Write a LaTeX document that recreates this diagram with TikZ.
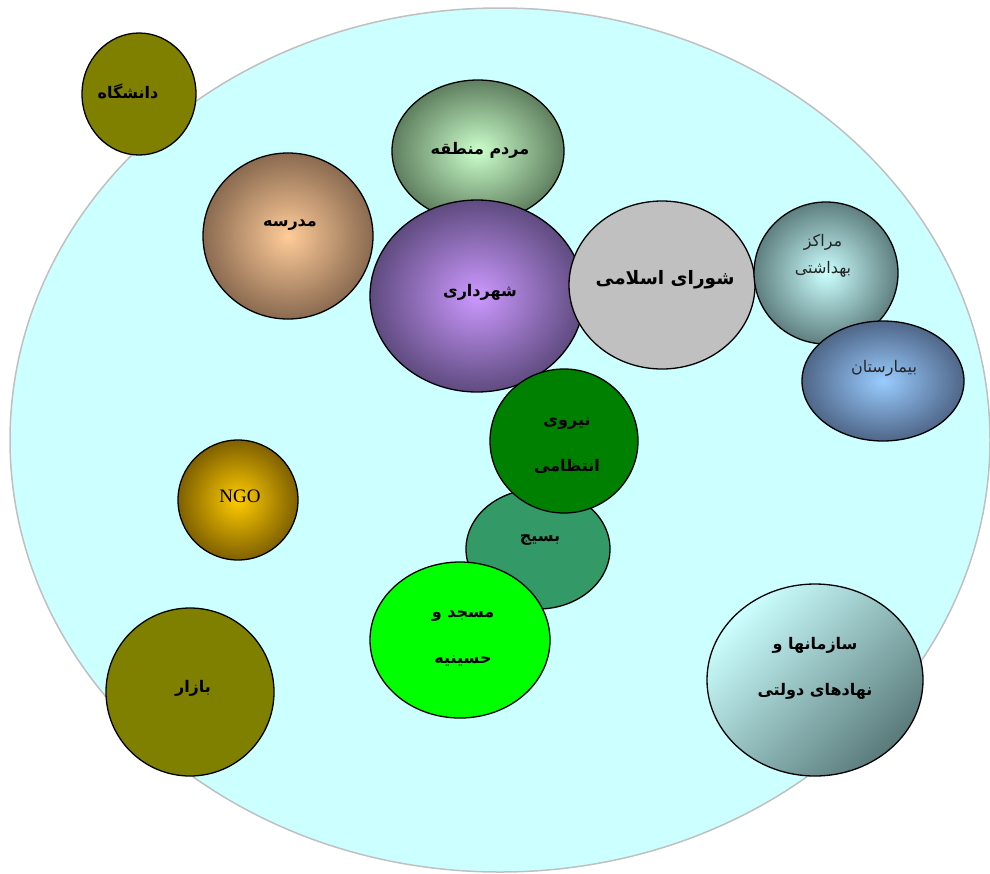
\documentclass[tikz,border=0pt]{standalone}
\usepackage{fontspec}
\setmainfont{Liberation Serif}
\newfontfamily\arabicfont[Script=Arabic]{DejaVu Sans}
\TeXXeTstate=1
\usetikzlibrary{shapes.geometric}
\definecolor{bgcyan}{HTML}{CCFFFF}
\definecolor{bgborder}{HTML}{C0C0C0}
\definecolor{olivec}{HTML}{808000}
\definecolor{mardomIn}{HTML}{CCFFCC}
\definecolor{mardomOut}{HTML}{5F7F5F}
\definecolor{madIn}{HTML}{FFCC99}
\definecolor{madOut}{HTML}{8A6A50}
\definecolor{shahIn}{HTML}{CC99FF}
\definecolor{shahOut}{HTML}{5F4B80}
\definecolor{shoraC}{HTML}{C0C0C0}
\definecolor{markazIn}{HTML}{CCFFFF}
\definecolor{markazOut}{HTML}{5F7F7F}
\definecolor{bimIn}{HTML}{99CCFF}
\definecolor{bimOut}{HTML}{4F6688}
\definecolor{niruC}{HTML}{008000}
\definecolor{basijC}{HTML}{339966}
\definecolor{masjedC}{HTML}{00FF00}
\definecolor{ngoIn}{HTML}{FFCC00}
\definecolor{ngoOut}{HTML}{7F6000}
\definecolor{sazIn}{HTML}{CCFFFF}
\definecolor{sazOut}{HTML}{5A7A7A}
\tikzset{
  blob/.style={ellipse, draw=black, line width=1.3pt, inner sep=0pt},
  fa/.style={font=\arabicfont\bfseries\fontsize{16}{18}\selectfont, text=black, align=center},
  fatwo/.style={font=\arabicfont\bfseries\fontsize{16}{46}\selectfont, text=black, align=center},
  faplain/.style={font=\arabicfont\fontsize{16}{27}\selectfont, text=black!85, align=center},
}
\begin{document}
\begin{tikzpicture}[x=1pt,y=-1pt]
\useasboundingbox (0,0) rectangle (990,873);
% background ellipse
\node[ellipse, draw=bgborder, fill=bgcyan, line width=1.5pt, minimum width=980pt, minimum height=864pt, inner sep=0pt] (bg) at (500,440) {};
% circles
\node[blob, fill=olivec, minimum width=114pt, minimum height=122pt] (daneshgah) at (139,94) {};
\node[blob, inner color=mardomIn, outer color=mardomOut, minimum width=172pt, minimum height=142pt] (mardom) at (478,151) {};
\node[blob, inner color=madIn, outer color=madOut, minimum width=170pt, minimum height=166pt] (madrese) at (288,236) {};
\node[blob, inner color=shahIn, outer color=shahOut, minimum width=214pt, minimum height=192pt] (shahrdari) at (477,296) {};
\node[blob, fill=shoraC, minimum width=186pt, minimum height=168pt] (shora) at (662,285) {};
\node[blob, inner color=markazIn, outer color=markazOut, minimum width=144pt, minimum height=142pt] (marakez) at (826,273) {};
\node[blob, inner color=bimIn, outer color=bimOut, minimum width=162pt, minimum height=120pt] (bimarestan) at (883,381) {};
\node[blob, fill=basijC, minimum width=144pt, minimum height=120pt] (basij) at (538,549) {};
\node[blob, fill=niruC, minimum width=148pt, minimum height=144pt] (niru) at (564,441) {};
\node[blob, fill=masjedC, minimum width=180pt, minimum height=156pt] (masjed) at (460,640) {};
\node[blob, inner color=ngoIn, outer color=ngoOut, minimum width=120pt, minimum height=120pt] (ngo) at (238,500) {};
\node[blob, fill=olivec, minimum width=168pt, minimum height=168pt] (bazar) at (190,692) {};
\node[blob, shading=axis, top color=sazIn, bottom color=sazOut, shading angle=45, minimum width=216pt, minimum height=192pt] (sazman) at (815,680) {};
% labels
\node[fa] (tdaneshgah) at (128,91) {\beginR دانشگاه\endR};
\node[fa] (tmardom) at (480,150) {\beginR مردم منطقه\endR};
\node[fa] (tmadrese) at (290,225) {\beginR مدرسه\endR};
\node[fa] (tshahrdari) at (480,292) {\beginR شهرداری\endR};
\node[fa, font=\arabicfont\bfseries\fontsize{18.5}{21}\selectfont] (tshora) at (665,280) {\beginR شورای اسلامی\endR};
\node[faplain] (tmarakez) at (823,256) {\beginR مراکز\endR\\\beginR بهداشتی\endR};
\node[faplain] (tbimarestan) at (884,368) {\beginR بیمارستان\endR};
\node[fatwo] (tniru) at (567,446) {\beginR نیروی\endR\\\beginR انتظامی\endR};
\node[fa] (tbasij) at (540,540) {\beginR بسیج\endR};
\node[fatwo] (tmasjed) at (463,638) {\beginR مسجد و\endR\\\beginR حسینیه\endR};
\node[font=\fontsize{19}{21}\selectfont] (tngo) at (240,496) {NGO};
\node[fa] (tbazar) at (193,688) {\beginR بازار\endR};
\node[fatwo] (tsazman) at (815,668) {\beginR سازمانها و\endR\\\beginR نهادهای دولتی\endR};
\end{tikzpicture}
\end{document}
